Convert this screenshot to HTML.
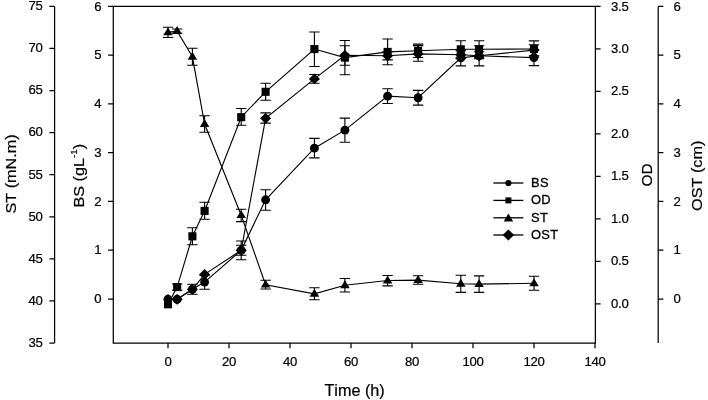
<!DOCTYPE html>
<html><head><meta charset="utf-8"><title>chart</title>
<style>
html,body{margin:0;padding:0;background:#fff;}
body{width:708px;height:400px;overflow:hidden;font-family:"Liberation Sans",sans-serif;}
svg{display:block;filter:grayscale(1);}
text{font-family:"Liberation Sans",sans-serif;font-kerning:none;fill:#000;stroke:#000;stroke-width:0.22px;}
.tk{font-size:13.15px;letter-spacing:-0.25px;}
.ti{font-size:16.2px;}
.lg{font-size:12.9px;stroke-width:0.32px;letter-spacing:0.3px;}
</style></head><body>
<svg width="708" height="400" viewBox="0 0 708 400">
<rect width="708" height="400" fill="#fff"/>
<g fill="none" stroke="#000" stroke-width="1.25">
<path d="M113.3 6.4H595.4V343.0H113.3Z"/>
<path d="M54.6 6.4V343.0"/>
<path d="M658.2 6.4V343.0"/>
<path d="M49.40 6.40H54.60M49.40 48.48H54.60M49.40 90.55H54.60M49.40 132.62H54.60M49.40 174.70H54.60M49.40 216.78H54.60M49.40 258.85H54.60M49.40 300.93H54.60M49.40 343.00H54.60M108.10 299.00H113.30M658.20 299.00H663.40M108.10 250.23H113.30M658.20 250.23H663.40M108.10 201.47H113.30M658.20 201.47H663.40M108.10 152.70H113.30M658.20 152.70H663.40M108.10 103.93H113.30M658.20 103.93H663.40M108.10 55.17H113.30M658.20 55.17H663.40M108.10 6.40H113.30M658.20 6.40H663.40M595.40 303.75H600.60M595.40 261.27H600.60M595.40 218.79H600.60M595.40 176.31H600.60M595.40 133.84H600.60M595.40 91.36H600.60M595.40 48.88H600.60M595.40 6.40H600.60M168.00 343.0V348.2M229.00 343.0V348.2M290.00 343.0V348.2M351.00 343.0V348.2M412.00 343.0V348.2M473.00 343.0V348.2M534.00 343.0V348.2M595.00 343.0V348.2"/>
</g>
<g class="tk">
<text x="42.5" y="10.20" text-anchor="end">75</text>
<text x="42.5" y="52.27" text-anchor="end">70</text>
<text x="42.5" y="94.35" text-anchor="end">65</text>
<text x="42.5" y="136.43" text-anchor="end">60</text>
<text x="42.5" y="178.50" text-anchor="end">55</text>
<text x="42.5" y="220.58" text-anchor="end">50</text>
<text x="42.5" y="262.65" text-anchor="end">45</text>
<text x="42.5" y="304.73" text-anchor="end">40</text>
<text x="42.5" y="346.80" text-anchor="end">35</text>
<text x="101.3" y="303.10" text-anchor="end">0</text>
<text x="673.5" y="303.20">0</text>
<text x="101.3" y="254.33" text-anchor="end">1</text>
<text x="673.5" y="254.43">1</text>
<text x="101.3" y="205.57" text-anchor="end">2</text>
<text x="673.5" y="205.67">2</text>
<text x="101.3" y="156.80" text-anchor="end">3</text>
<text x="673.5" y="156.90">3</text>
<text x="101.3" y="108.03" text-anchor="end">4</text>
<text x="673.5" y="108.13">4</text>
<text x="101.3" y="59.27" text-anchor="end">5</text>
<text x="673.5" y="59.37">5</text>
<text x="101.3" y="10.50" text-anchor="end">6</text>
<text x="673.5" y="10.60">6</text>
<text x="611.0" y="307.85">0.0</text>
<text x="611.0" y="265.37">0.5</text>
<text x="611.0" y="222.89">1.0</text>
<text x="611.0" y="180.41">1.5</text>
<text x="611.0" y="137.94">2.0</text>
<text x="611.0" y="95.46">2.5</text>
<text x="611.0" y="52.98">3.0</text>
<text x="611.0" y="10.50">3.5</text>
<text x="168.00" y="365.85" text-anchor="middle">0</text>
<text x="229.00" y="365.85" text-anchor="middle">20</text>
<text x="290.00" y="365.85" text-anchor="middle">40</text>
<text x="351.00" y="365.85" text-anchor="middle">60</text>
<text x="412.00" y="365.85" text-anchor="middle">80</text>
<text x="473.00" y="365.85" text-anchor="middle">100</text>
<text x="534.00" y="365.85" text-anchor="middle">120</text>
<text x="595.00" y="365.85" text-anchor="middle">140</text>
</g>
<g class="ti">
<text x="354.6" y="395.6" text-anchor="middle">Time (h)</text>
<text transform="translate(15.9 173.9) rotate(-90) scale(1 0.95)" text-anchor="middle">ST (mN.m)</text>
<text transform="translate(83.9 175.7) rotate(-90) scale(1 0.94)" text-anchor="middle">BS (gL<tspan dy="-7.3" font-size="9.8">-1</tspan><tspan dy="7.3">)</tspan></text>
<text transform="translate(651.6 175.0) rotate(-90) scale(0.95 0.95)" text-anchor="middle">OD</text>
<text transform="translate(702.3 175.8) rotate(-90) scale(1 0.95)" text-anchor="middle">OST (cm)</text>
</g>
<path d="M168 293.9L172.5 299.3L168 304L163.5 299.3Z" fill="#000"/>
<polyline points="168.00,299.30 177.15,299.30 192.40,289.30 204.60,282.10 241.20,250.30 265.60,199.80 314.40,148.15 344.90,130.15 387.60,96.15 418.10,97.75 460.80,57.90 479.10,55.80 534.00,57.60" fill="none" stroke="#000" stroke-width="1.13"/>
<path d="M192.40 284.30V294.30M187.20 284.30H197.60M187.20 294.30H197.60M204.60 275.10V289.20M199.40 275.10H209.80M199.40 289.20H209.80M241.20 241.05V259.80M236.00 241.05H246.40M236.00 259.80H246.40M265.60 189.80V210.30M260.40 189.80H270.80M260.40 210.30H270.80M314.40 138.40V157.90M309.20 138.40H319.60M309.20 157.90H319.60M344.90 118.10V142.20M339.70 118.10H350.10M339.70 142.20H350.10M387.60 88.80V103.50M382.40 88.80H392.80M382.40 103.50H392.80M418.10 90.40V105.10M412.90 90.40H423.30M412.90 105.10H423.30M460.80 49.90V65.90M455.60 49.90H466.00M455.60 65.90H466.00M479.10 45.70V65.90M473.90 45.70H484.30M473.90 65.90H484.30M534.00 49.60V65.60M528.80 49.60H539.20M528.80 65.60H539.20" fill="none" stroke="#000" stroke-width="1.13"/>
<g fill="#000"><circle cx="168.00" cy="299.30" r="4.45"/><circle cx="177.15" cy="299.30" r="4.45"/><circle cx="192.40" cy="289.30" r="4.45"/><circle cx="204.60" cy="282.10" r="4.45"/><circle cx="241.20" cy="250.30" r="4.45"/><circle cx="265.60" cy="199.80" r="4.45"/><circle cx="314.40" cy="148.15" r="4.45"/><circle cx="344.90" cy="130.15" r="4.45"/><circle cx="387.60" cy="96.15" r="4.45"/><circle cx="418.10" cy="97.75" r="4.45"/><circle cx="460.80" cy="57.90" r="4.45"/><circle cx="479.10" cy="55.80" r="4.45"/><circle cx="534.00" cy="57.60" r="4.45"/></g>
<polyline points="168.00,304.30 177.15,287.10 192.40,236.30 204.60,210.90 241.20,117.20 265.60,91.80 314.40,49.05 344.90,57.60 387.60,51.90 418.10,50.80 460.80,49.30 479.10,49.30 534.00,49.05" fill="none" stroke="#000" stroke-width="1.13"/>
<path d="M177.15 284.05V290.30M171.95 284.05H182.35M171.95 290.30H182.35M192.40 227.80V244.80M187.20 227.80H197.60M187.20 244.80H197.60M204.60 202.30V219.30M199.40 202.30H209.80M199.40 219.30H209.80M241.20 108.50V125.30M236.00 108.50H246.40M236.00 125.30H246.40M265.60 83.30V100.30M260.40 83.30H270.80M260.40 100.30H270.80M314.40 32.05V66.50M309.20 32.05H319.60M309.20 66.50H319.60M344.90 40.55V74.70M339.70 40.55H350.10M339.70 74.70H350.10M387.60 39.00V64.80M382.40 39.00H392.80M382.40 64.80H392.80M418.10 44.10V57.50M412.90 44.10H423.30M412.90 57.50H423.30M460.80 40.70V57.90M455.60 40.70H466.00M455.60 57.90H466.00M479.10 40.70V57.90M473.90 40.70H484.30M473.90 57.90H484.30M534.00 40.90V57.30M528.80 40.90H539.20M528.80 57.30H539.20" fill="none" stroke="#000" stroke-width="1.13"/>
<g fill="#000"><rect x="163.95" y="300.25" width="8.10" height="8.10"/><rect x="173.10" y="283.05" width="8.10" height="8.10"/><rect x="188.35" y="232.25" width="8.10" height="8.10"/><rect x="200.55" y="206.85" width="8.10" height="8.10"/><rect x="237.15" y="113.15" width="8.10" height="8.10"/><rect x="261.55" y="87.75" width="8.10" height="8.10"/><rect x="310.35" y="45.00" width="8.10" height="8.10"/><rect x="340.85" y="53.55" width="8.10" height="8.10"/><rect x="383.55" y="47.85" width="8.10" height="8.10"/><rect x="414.05" y="46.75" width="8.10" height="8.10"/><rect x="456.75" y="45.25" width="8.10" height="8.10"/><rect x="475.05" y="45.25" width="8.10" height="8.10"/><rect x="529.95" y="45.00" width="8.10" height="8.10"/></g>
<polyline points="168.00,32.40 177.15,31.10 192.40,56.80 204.60,124.05 241.20,215.20 265.60,284.70 314.40,293.80 344.90,285.30 387.60,280.50 418.10,280.10 460.80,283.80 479.10,284.15 534.00,283.30" fill="none" stroke="#000" stroke-width="1.13"/>
<path d="M168.00 27.30V37.55M162.80 27.30H173.20M162.80 37.55H173.20M177.15 29.05V33.30M171.95 29.05H182.35M171.95 33.30H182.35M192.40 48.30V65.30M187.20 48.30H197.60M187.20 65.30H197.60M204.60 115.80V132.30M199.40 115.80H209.80M199.40 132.30H209.80M241.20 209.20V221.60M236.00 209.20H246.40M236.00 221.60H246.40M265.60 280.30V289.05M260.40 280.30H270.80M260.40 289.05H270.80M314.40 287.80V299.80M309.20 287.80H319.60M309.20 299.80H319.60M344.90 278.55V292.05M339.70 278.55H350.10M339.70 292.05H350.10M387.60 275.50V285.90M382.40 275.50H392.80M382.40 285.90H392.80M418.10 275.70V284.30M412.90 275.70H423.30M412.90 284.30H423.30M460.80 275.30V292.40M455.60 275.30H466.00M455.60 292.40H466.00M479.10 275.90V292.40M473.90 275.90H484.30M473.90 292.40H484.30M534.00 276.30V290.30M528.80 276.30H539.20M528.80 290.30H539.20" fill="none" stroke="#000" stroke-width="1.13"/>
<g fill="#000"><path d="M168.00 27.40L172.75 35.30L163.25 35.30Z"/><path d="M177.15 26.10L181.90 34.00L172.40 34.00Z"/><path d="M192.40 51.80L197.15 59.70L187.65 59.70Z"/><path d="M204.60 119.05L209.35 126.95L199.85 126.95Z"/><path d="M241.20 210.20L245.95 218.10L236.45 218.10Z"/><path d="M265.60 279.70L270.35 287.60L260.85 287.60Z"/><path d="M314.40 288.80L319.15 296.70L309.65 296.70Z"/><path d="M344.90 280.30L349.65 288.20L340.15 288.20Z"/><path d="M387.60 275.50L392.35 283.40L382.85 283.40Z"/><path d="M418.10 275.10L422.85 283.00L413.35 283.00Z"/><path d="M460.80 278.80L465.55 286.70L456.05 286.70Z"/><path d="M479.10 279.15L483.85 287.05L474.35 287.05Z"/><path d="M534.00 278.30L538.75 286.20L529.25 286.20Z"/></g>
<polyline points="168.00,299.30 177.15,299.30 192.40,289.30 204.60,274.40 241.20,250.30 265.60,118.30 314.40,78.90 344.90,55.30 387.60,55.80 418.10,53.90 460.80,54.80 479.10,55.80 534.00,50.10" fill="none" stroke="#000" stroke-width="1.13"/>
<path d="M241.20 245.30V255.30M236.00 245.30H246.40M236.00 255.30H246.40M265.60 112.90V123.10M260.40 112.90H270.80M260.40 123.10H270.80M314.40 74.55V83.30M309.20 74.55H319.60M309.20 83.30H319.60M344.90 45.80V65.30M339.70 45.80H350.10M339.70 65.30H350.10M387.60 51.80V59.90M382.40 51.80H392.80M382.40 59.90H392.80M418.10 45.60V61.30M412.90 45.60H423.30M412.90 61.30H423.30M460.80 50.80V58.30M455.60 50.80H466.00M455.60 58.30H466.00M479.10 51.80V58.80M473.90 51.80H484.30M473.90 58.80H484.30M534.00 44.80V55.90M528.80 44.80H539.20M528.80 55.90H539.20" fill="none" stroke="#000" stroke-width="1.13"/>
<g fill="#000"><path d="M177.15 293.95L182.70 299.30L177.15 304.65L171.60 299.30Z"/><path d="M192.40 283.95L197.95 289.30L192.40 294.65L186.85 289.30Z"/><path d="M204.60 269.05L210.15 274.40L204.60 279.75L199.05 274.40Z"/><path d="M241.20 244.95L246.75 250.30L241.20 255.65L235.65 250.30Z"/><path d="M265.60 112.95L271.15 118.30L265.60 123.65L260.05 118.30Z"/><path d="M314.40 73.55L319.95 78.90L314.40 84.25L308.85 78.90Z"/><path d="M344.90 49.95L350.45 55.30L344.90 60.65L339.35 55.30Z"/><path d="M387.60 50.45L393.15 55.80L387.60 61.15L382.05 55.80Z"/><path d="M418.10 48.55L423.65 53.90L418.10 59.25L412.55 53.90Z"/><path d="M460.80 49.45L466.35 54.80L460.80 60.15L455.25 54.80Z"/><path d="M479.10 50.45L484.65 55.80L479.10 61.15L473.55 55.80Z"/><path d="M534.00 44.75L539.55 50.10L534.00 55.45L528.45 50.10Z"/></g>
<path d="M493.4 183.0H523.4" stroke="#000" stroke-width="1.3" fill="none"/>
<g fill="#000"><circle cx="508.40" cy="183.00" r="3.11"/></g>
<text class="lg" x="531" y="187.00">BS</text>
<path d="M493.4 200.4H523.4" stroke="#000" stroke-width="1.3" fill="none"/>
<g fill="#000"><rect x="505.40" y="197.40" width="5.99" height="5.99"/></g>
<text class="lg" x="531" y="204.00">OD</text>
<path d="M493.4 217.8H523.4" stroke="#000" stroke-width="1.3" fill="none"/>
<g fill="#000"><path d="M508.40 213.60L513.15 221.50L503.65 221.50Z"/></g>
<text class="lg" x="531" y="222.00">ST</text>
<path d="M493.4 235.0H523.4" stroke="#000" stroke-width="1.3" fill="none"/>
<g fill="#000"><path d="M508.40 229.44L514.17 235.00L508.40 240.56L502.63 235.00Z"/></g>
<text class="lg" x="531" y="238.50">OST</text>
</svg></body></html>
